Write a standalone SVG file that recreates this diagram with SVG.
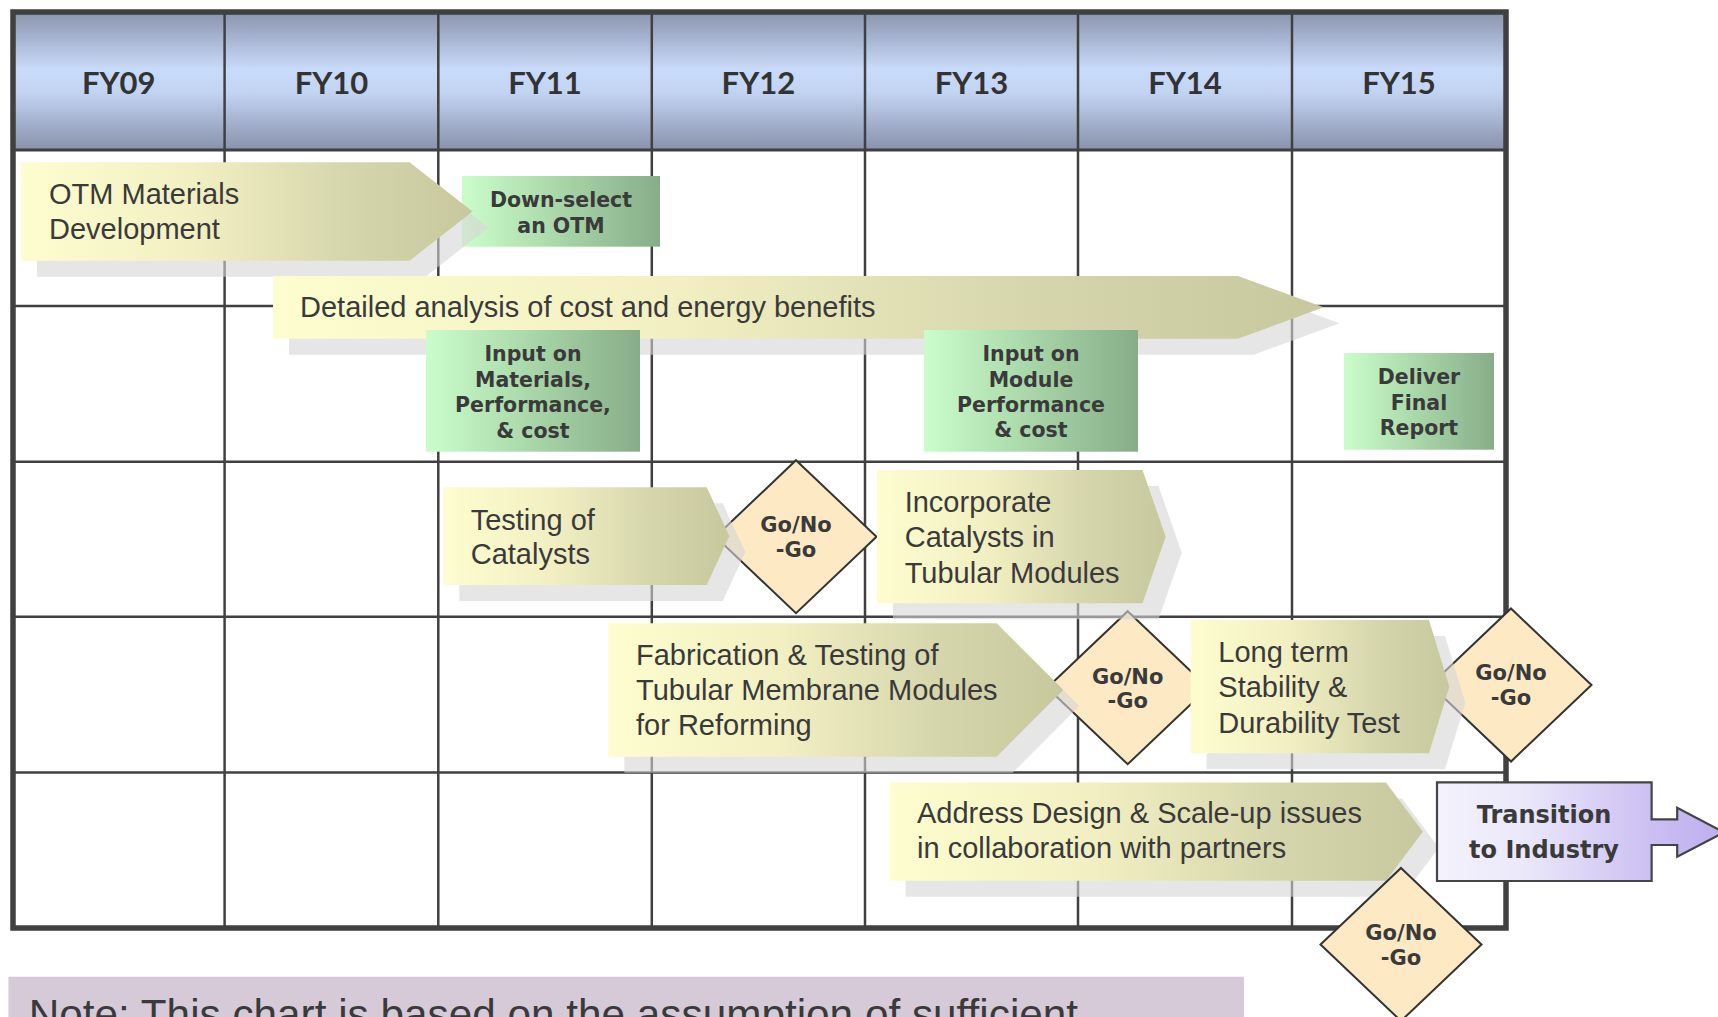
<svg xmlns="http://www.w3.org/2000/svg" width="1718" height="1017" viewBox="0 0 1718 1017">
  <defs>
    <linearGradient id="gHeader" x1="0" y1="0" x2="0" y2="1">
      <stop offset="0" stop-color="#8a94ad"/>
      <stop offset="0.42" stop-color="#c9dbfa"/>
      <stop offset="0.58" stop-color="#c3d4f3"/>
      <stop offset="1" stop-color="#8892ab"/>
    </linearGradient>
    <linearGradient id="gTask" x1="0" y1="0" x2="1" y2="0">
      <stop offset="0" stop-color="#fdfdd0"/>
      <stop offset="0.38" stop-color="#f2f0c2"/>
      <stop offset="0.72" stop-color="#d6d6ad"/>
      <stop offset="1" stop-color="#c8c89f"/>
    </linearGradient>
    <linearGradient id="gMile" x1="0" y1="0" x2="1" y2="0">
      <stop offset="0" stop-color="#cbfdcb"/>
      <stop offset="0.5" stop-color="#a8d6a8"/>
      <stop offset="1" stop-color="#87ad88"/>
    </linearGradient>
    <linearGradient id="gTransition" x1="0" y1="0" x2="1" y2="0">
      <stop offset="0" stop-color="#f4f2fc"/>
      <stop offset="0.3" stop-color="#ebe8fa"/>
      <stop offset="0.75" stop-color="#cbbff2"/>
      <stop offset="1" stop-color="#bdaeee"/>
    </linearGradient>
    <style>
      .line { stroke: #404040; stroke-width: 2.5; fill: none; }
      .border { stroke: #404040; stroke-width: 5.5; fill: none; }
      .year { font-family: Lato, "Open Sans", sans-serif; font-weight: bold; font-size: 31px; fill: #333; text-anchor: middle; }
      .task { fill: url(#gTask); }
      .shadow { fill: #d6d6d6; opacity: 0.6; }
      .tt { font-family: "Liberation Sans", Arial, sans-serif; font-size: 29px; fill: #3a3a3a; }
      .mile { fill: url(#gMile); }
      .mt { font-family: "DejaVu Sans", Verdana, sans-serif; font-weight: bold; font-size: 20.5px; fill: #3a3a3a; text-anchor: middle; }
      .gate { fill: #fde9c4; stroke: #333; stroke-width: 2; }
      .gt { font-family: "DejaVu Sans", Verdana, sans-serif; font-weight: bold; font-size: 21px; fill: #3a3a3a; text-anchor: middle; }
    </style>
  </defs>

  <rect width="1718" height="1017" fill="#ffffff"/>

  <!-- timeline grid -->
  <g id="grid">
    <rect x="13" y="12" width="1493" height="138" fill="url(#gHeader)"/>
    <line class="line" x1="13" y1="150" x2="1506" y2="150" style="stroke-width:3"/>
    <line class="line" x1="13" y1="306" x2="1506" y2="306"/>
    <line class="line" x1="13" y1="461.7" x2="1506" y2="461.7"/>
    <line class="line" x1="13" y1="616.7" x2="1506" y2="616.7"/>
    <line class="line" x1="13" y1="772.5" x2="1506" y2="772.5"/>
    <line class="line" x1="224.6" y1="12" x2="224.6" y2="928"/>
    <line class="line" x1="438.3" y1="12" x2="438.3" y2="928"/>
    <line class="line" x1="651.8" y1="12" x2="651.8" y2="928"/>
    <line class="line" x1="865" y1="12" x2="865" y2="928"/>
    <line class="line" x1="1078" y1="12" x2="1078" y2="928"/>
    <line class="line" x1="1292" y1="12" x2="1292" y2="928"/>
    <rect class="border" x="13" y="12" width="1493" height="916"/>
    <text class="year" x="118.8" y="94">FY09</text>
    <text class="year" x="331.5" y="94">FY10</text>
    <text class="year" x="545" y="94">FY11</text>
    <text class="year" x="758.4" y="94">FY12</text>
    <text class="year" x="971.5" y="94">FY13</text>
    <text class="year" x="1185" y="94">FY14</text>
    <text class="year" x="1399" y="94">FY15</text>
  </g>

  <g id="downselect">
    <rect class="mile" x="462" y="176" width="198" height="70.7"/>
    <text class="mt" x="561" y="206.7">Down-select</text>
    <text class="mt" x="561" y="232.7">an OTM</text>
  </g>

  <!-- go / no-go gates -->
  <g id="gate1">
    <polygon class="gate" points="796,460.2 876.5,536.7 796,613.2 715.5,536.7"/>
    <text class="gt" x="796" y="532">Go/No</text>
    <text class="gt" x="796" y="557">-Go</text>
  </g>
  <g id="gate2">
    <polygon class="gate" points="1127.7,611.2 1208.2,687.7 1127.7,764.2 1047.2,687.7"/>
    <text class="gt" x="1127.7" y="683.5">Go/No</text>
    <text class="gt" x="1127.7" y="708.3">-Go</text>
  </g>
  <g id="gate3">
    <polygon class="gate" points="1511,608.5 1591.5,685 1511,761.5 1430.5,685"/>
    <text class="gt" x="1511" y="680">Go/No</text>
    <text class="gt" x="1511" y="705">-Go</text>
  </g>

  <!-- task arrows -->
  <g id="otm">
    <polygon class="shadow" points="37,178.3 425.5,178.3 488.6,227.5 425.5,276.7 37,276.7"/>
    <polygon class="task" points="21,162.3 409.5,162.3 472.6,211.5 409.5,260.7 21,260.7"/>
    <text class="tt" x="49" y="204">OTM Materials</text>
    <text class="tt" x="49" y="239.3">Development</text>
  </g>
  <g id="analysis">
    <polygon class="shadow" points="289,292 1254,292 1339.6,323.3 1254,354.7 289,354.7"/>
    <polygon class="task" points="273,276 1238,276 1323.6,307.3 1238,338.7 273,338.7"/>
    <text class="tt" x="300" y="317">Detailed analysis of cost and energy benefits</text>
  </g>
  <g id="testing">
    <polygon class="shadow" points="459.3,503.3 722.7,503.3 745.3,552 722.7,601 459.3,601"/>
    <polygon class="task" points="443.3,487.3 706.7,487.3 729.3,536 706.7,585 443.3,585"/>
    <text class="tt" x="470.7" y="530">Testing of</text>
    <text class="tt" x="470.7" y="564.3">Catalysts</text>
  </g>
  <g id="incorporate">
    <polygon class="shadow" points="893,486 1158.5,486 1181.7,552.7 1158.5,619.3 893,619.3"/>
    <polygon class="task" points="877,470 1142.5,470 1165.7,536.7 1142.5,603.3 877,603.3"/>
    <text class="tt" x="904.7" y="511.7">Incorporate</text>
    <text class="tt" x="904.7" y="547.3">Catalysts in</text>
    <text class="tt" x="904.7" y="582.7">Tubular Modules</text>
  </g>
  <g id="fabrication">
    <polygon class="shadow" points="624.3,639.3 1012.7,639.3 1079.3,706 1012.7,772.7 624.3,772.7"/>
    <polygon class="task" points="608.3,623.3 996.7,623.3 1063.3,690 996.7,756.7 608.3,756.7"/>
    <text class="tt" x="636" y="665">Fabrication &amp; Testing of</text>
    <text class="tt" x="636" y="700">Tubular Membrane Modules</text>
    <text class="tt" x="636" y="735">for Reforming</text>
  </g>
  <g id="longterm">
    <polygon class="shadow" points="1206.6,636 1445,636 1465.3,702.7 1445,769.3 1206.6,769.3"/>
    <polygon class="task" points="1190.6,620 1429,620 1449.3,686.7 1429,753.3 1190.6,753.3"/>
    <text class="tt" x="1218.3" y="661.7">Long term</text>
    <text class="tt" x="1218.3" y="697.3">Stability &amp;</text>
    <text class="tt" x="1218.3" y="732.7">Durability Test</text>
  </g>
  <g id="scaleup">
    <polygon class="shadow" points="905.6,798.5 1402,798.5 1438.8,847.7 1402,896.7 905.6,896.7"/>
    <polygon class="task" points="889.6,782.5 1386,782.5 1422.8,831.7 1386,880.7 889.6,880.7"/>
    <text class="tt" x="917" y="823.3">Address Design &amp; Scale-up issues</text>
    <text class="tt" x="917" y="858.3">in collaboration with partners</text>
  </g>

  <!-- milestone boxes -->
  <g id="input-materials">
    <rect class="mile" x="426" y="330" width="214" height="121.7"/>
    <text class="mt" x="533" y="360.7">Input on</text>
    <text class="mt" x="533" y="386.7">Materials,</text>
    <text class="mt" x="533" y="411.7">Performance,</text>
    <text class="mt" x="533" y="437.7">&amp; cost</text>
  </g>
  <g id="input-module">
    <rect class="mile" x="924" y="330" width="214" height="121.7"/>
    <text class="mt" x="1031" y="361">Input on</text>
    <text class="mt" x="1031" y="386.7">Module</text>
    <text class="mt" x="1031" y="411.7">Performance</text>
    <text class="mt" x="1031" y="437.3">&amp; cost</text>
  </g>
  <g id="final-report">
    <rect class="mile" x="1344" y="353" width="150" height="96.7"/>
    <text class="mt" x="1419" y="384.3">Deliver</text>
    <text class="mt" x="1419" y="410">Final</text>
    <text class="mt" x="1419" y="435">Report</text>
  </g>

  <g id="gate4">
    <polygon class="gate" points="1401,868 1481.5,944.5 1401,1021 1320.5,944.5"/>
    <text class="gt" x="1401" y="940">Go/No</text>
    <text class="gt" x="1401" y="965">-Go</text>
  </g>

  <g id="transition">
    <polygon points="1437,782.3 1651.6,782.3 1651.6,819.3 1677.2,819.3 1677.2,807.7 1724,832.3 1677.2,856.7 1677.2,845 1651.6,845 1651.6,881 1437,881" fill="url(#gTransition)" stroke="#444" stroke-width="2.2"/>
    <text class="gt" x="1544" y="823.3" style="font-size:24px">Transition</text>
    <text class="gt" x="1544" y="858.3" style="font-size:24px">to Industry</text>
  </g>

  <g id="note">
    <rect x="8.4" y="976.7" width="1235.6" height="60" fill="#d6cad8"/>
    <text x="28.7" y="1028.6" style="font-family:'Liberation Sans', Arial, sans-serif; font-size:42.3px; fill:#3a3a3a">Note: This chart is based on the assumption of sufficient</text>
  </g>
</svg>
